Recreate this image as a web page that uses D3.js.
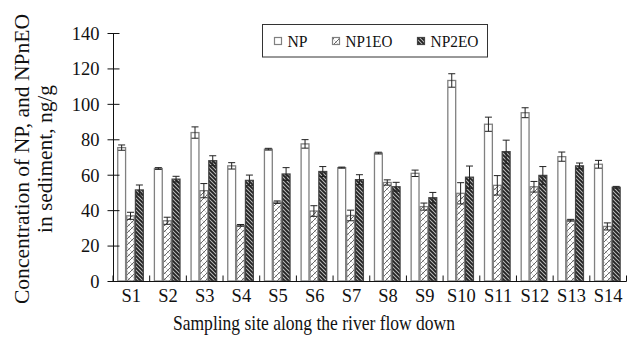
<!DOCTYPE html>
<html>
<head>
<meta charset="utf-8">
<script src="https://cdn.jsdelivr.net/npm/d3@7"></script>
<style>
  html, body { margin: 0; padding: 0; background: #fff; }
  svg { display: block; }
  svg text { font-family: "Liberation Serif", "Times New Roman", serif !important; fill: #111; }
</style>
</head>
<body>
<svg id="chart" width="627" height="339"></svg>
<script>
const categories = ["S1","S2","S3","S4","S5","S6","S7","S8","S9","S10","S11","S12","S13","S14"];
const seriesNames = ["NP", "NP1EO", "NP2EO"];
const npValues    = [75.3, 63.5, 83.8, 65.0, 74.4, 77.4, 64.0, 72.2, 60.8, 113.2, 88.5, 95.0, 70.2, 65.9];
const npErrors    = [1.5, 0.5, 3.2, 1.8, 0.5, 2.4, 0.3, 0.5, 1.8, 3.8, 4.0, 2.8, 2.6, 2.2];
const np1eoValues = [36.8, 34.0, 51.0, 31.4, 44.5, 39.5, 37.0, 55.6, 42.0, 49.5, 54.0, 53.2, 34.3, 30.8];
const np1eoErrors = [2.0, 2.0, 4.0, 0.5, 0.7, 3.0, 3.0, 1.5, 2.0, 6.0, 5.5, 3.0, 0.5, 2.0];
const np2eoValues = [51.4, 57.5, 67.9, 56.8, 60.4, 61.8, 57.2, 53.2, 47.0, 58.6, 73.0, 59.6, 65.0, 52.9];
const np2eoErrors = [2.8, 1.6, 2.8, 3.0, 3.6, 2.8, 2.8, 2.5, 3.0, 6.3, 6.5, 5.0, 1.6, 0.5];
const yTicks = [0, 20, 40, 60, 80, 100, 120, 140];

const series = [
  { name: seriesNames[0], values: npValues, errors: npErrors },
  { name: seriesNames[1], values: np1eoValues, errors: np1eoErrors },
  { name: seriesNames[2], values: np2eoValues, errors: np2eoErrors }
];

const FONT = '"Liberation Serif", "Times New Roman", serif';
const svg = d3.select("#chart");
const defs = svg.append("defs");

// NP1EO pattern: light diagonal hatch with faint cross lines
const p1 = defs.append("pattern").attr("id", "pat1").attr("patternUnits", "userSpaceOnUse")
  .attr("width", 6).attr("height", 6);
p1.append("rect").attr("width", 6).attr("height", 6).attr("fill", "#fff");
p1.append("path").attr("d", "M0,6 L6,0 M-1,1 L1,-1 M5,7 L7,5").attr("stroke", "#666").attr("stroke-width", 1);
p1.append("path").attr("d", "M0,0 L6,6").attr("stroke", "#c4c4c4").attr("stroke-width", 0.8);

// NP2EO pattern: dense dark back-diagonal hatch
const p2 = defs.append("pattern").attr("id", "pat2").attr("patternUnits", "userSpaceOnUse")
  .attr("width", 4).attr("height", 4);
p2.append("rect").attr("width", 4).attr("height", 4).attr("fill", "#bdbdbd");
p2.append("path").attr("d", "M0,0 L4,4 M-1,3 L1,5 M3,-1 L5,1").attr("stroke", "#222").attr("stroke-width", 1.9);

const fills = ["#ffffff", "url(#pat1)", "url(#pat2)"];
const strokes = ["#808080", "#808080", "#444"];

const x = d3.scaleBand().domain(categories).range([113, 626.5]).padding(0);
const inner = d3.scaleBand().domain(seriesNames)
  .range([x.bandwidth() * 0.115, x.bandwidth() * 0.84]).padding(0);
const y = d3.scaleLinear().domain([0, 140]).range([281, 33]);

// Bars
series.forEach((s, si) => {
  svg.append("g").selectAll("rect").data(categories).join("rect")
    .attr("x", (c) => x(c) + inner(s.name) + 0.5)
    .attr("width", inner.bandwidth() - 1)
    .attr("y", (c, i) => y(s.values[i]))
    .attr("height", (c, i) => y(0) - y(s.values[i]))
    .attr("fill", fills[si])
    .attr("stroke", strokes[si])
    .attr("stroke-width", 1.3);
});

// Error bars
series.forEach((s) => {
  const g = svg.append("g").attr("stroke", "#222").attr("stroke-width", 1);
  categories.forEach((c, i) => {
    const cx = x(c) + inner(s.name) + inner.bandwidth() / 2;
    const v = s.values[i], e = s.errors[i];
    g.append("line").attr("x1", cx).attr("x2", cx).attr("y1", y(v - e)).attr("y2", y(v + e));
    g.append("line").attr("x1", cx - 3.5).attr("x2", cx + 3.5).attr("y1", y(v + e)).attr("y2", y(v + e));
    g.append("line").attr("x1", cx - 3.5).attr("x2", cx + 3.5).attr("y1", y(v - e)).attr("y2", y(v - e));
  });
});

// Y axis
const yAxis = svg.append("g").attr("transform", "translate(113.5,0)")
  .call(d3.axisLeft(y).tickValues(yTicks).tickSize(6).tickPadding(8));
yAxis.attr("font-family", FONT).attr("font-size", 18.5);
yAxis.select(".domain").attr("stroke", "#111").attr("d", `M0,${y(140)}V${y(0)}`);
yAxis.selectAll(".tick line").attr("x1", 6).attr("x2", -6).attr("stroke", "#111");
yAxis.selectAll(".tick text").attr("fill", "#111").attr("dy", "0.34em");

// X axis
const xAxis = svg.append("g").attr("transform", `translate(0,${y(0) + 0.5})`)
  .call(d3.axisBottom(x).tickSize(0).tickPadding(7));
xAxis.attr("font-family", FONT).attr("font-size", 18.5);
xAxis.select(".domain").attr("stroke", "#111").attr("d", `M113,0H626.5`);
xAxis.selectAll(".tick text").attr("fill", "#111");
xAxis.append("g").selectAll("line").data(categories.concat(["__end"])).join("line")
  .attr("x1", (c) => (c === "__end" ? 626.5 : x(c)))
  .attr("x2", (c) => (c === "__end" ? 626.5 : x(c)))
  .attr("y1", 0).attr("y2", -6).attr("stroke", "#111");

// Axis titles
svg.append("text").attr("x", 314).attr("y", 330).attr("text-anchor", "middle")
  .attr("font-family", FONT).attr("font-size", 21)
  .attr("textLength", 282).attr("lengthAdjust", "spacingAndGlyphs")
  .text("Sampling site along the river flow down");

const yl = svg.append("g").attr("transform", "translate(0,159) rotate(-90)");
yl.append("text").attr("x", 0).attr("y", 29).attr("text-anchor", "middle")
  .attr("font-family", FONT).attr("font-size", 21)
  .attr("textLength", 290).attr("lengthAdjust", "spacingAndGlyphs")
  .text("Concentration of NP, and NPnEO");
yl.append("text").attr("x", 0).attr("y", 52).attr("text-anchor", "middle")
  .attr("font-family", FONT).attr("font-size", 21)
  .attr("textLength", 148).attr("lengthAdjust", "spacingAndGlyphs")
  .text("in sediment, ng/g");

// Legend
const legend = svg.append("g");
legend.append("rect").attr("x", 262.5).attr("y", 24.5).attr("width", 225).attr("height", 32.5)
  .attr("fill", "#fff").attr("stroke", "#333").attr("stroke-width", 1);
const legX = [274, 332, 417];
const legW = [20, 47, 48];
series.forEach((s, si) => {
  legend.append("rect").attr("x", legX[si] + 0.5).attr("y", 37.5).attr("width", 7).attr("height", 7)
    .attr("fill", fills[si]).attr("stroke", strokes[si]).attr("stroke-width", 1.2);
  legend.append("text").attr("x", legX[si] + 13.5).attr("y", 47).attr("font-family", FONT)
    .attr("font-size", 17).attr("textLength", legW[si]).attr("lengthAdjust", "spacingAndGlyphs")
    .text(s.name);
});
</script>
</body>
</html>
